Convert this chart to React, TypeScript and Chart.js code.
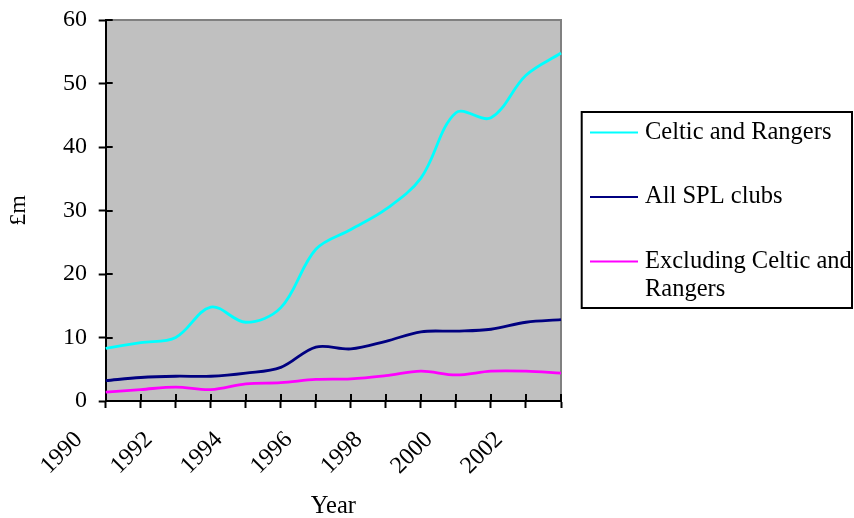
import React, { useEffect, useRef } from 'react';
import { Chart, registerables } from 'chart.js';

Chart.register(...registerables);

const years = ['1990', '1991', '1992', '1993', '1994', '1995', '1996', '1997', '1998', '1999', '2000', '2001', '2002', '2003'];
const xTickLabels = ['1990', '1992', '1994', '1996', '1998', '2000', '2002'];
const celticRangers = [8.3, 9.2, 10.0, 14.8, 12.4, 14.7, 23.9, 27.0, 30.2, 35.1, 45.4, 44.6, 51.3, 54.8];
const allSplClubs = [3.2, 3.7, 3.9, 3.9, 4.4, 5.3, 8.5, 8.2, 9.4, 10.9, 11.0, 11.3, 12.4, 12.8];
const excludingCR = [1.4, 1.8, 2.2, 1.8, 2.7, 2.9, 3.4, 3.5, 4.0, 4.7, 4.1, 4.7, 4.7, 4.4];
const seriesNames = ['Celtic and Rangers', 'All SPL clubs', 'Excluding Celtic and Rangers'];
const seriesColors = ['#00FFFF', '#000080', '#FF00FF'];
const yMin = 0;
const yMax = 60;
const yStep = 10;

const FAMILY = "'Liberation Serif', 'Times New Roman', serif";

const plotBgPlugin = {
  id: 'plotBg',
  beforeDraw(chart: any) {
    const { ctx, chartArea: a } = chart;
    ctx.save();
    ctx.fillStyle = '#C0C0C0';
    ctx.fillRect(a.left, a.top, a.right - a.left, a.bottom - a.top);
    ctx.strokeStyle = '#808080';
    ctx.lineWidth = 2;
    ctx.beginPath();
    ctx.moveTo(a.left, a.top);
    ctx.lineTo(a.right, a.top);
    ctx.lineTo(a.right, a.bottom);
    ctx.stroke();
    ctx.restore();
  },
};

const innerTicksPlugin = {
  id: 'innerTicks',
  beforeDatasetsDraw(chart: any) {
    const { ctx, chartArea: a, scales } = chart;
    const len = 7;
    ctx.save();
    ctx.strokeStyle = '#000';
    ctx.lineWidth = 2;
    ctx.beginPath();
    scales.x.ticks.forEach((_t: any, i: number) => {
      const px = Math.round(scales.x.getPixelForTick(i));
      ctx.moveTo(px, a.bottom);
      ctx.lineTo(px, a.bottom - len);
    });
    scales.y.ticks.forEach((_t: any, i: number) => {
      const py = Math.round(scales.y.getPixelForTick(i));
      ctx.moveTo(a.left, py);
      ctx.lineTo(a.left + len, py);
    });
    ctx.stroke();
    ctx.restore();
  },
};

function wrapText(ctx: CanvasRenderingContext2D, text: string, maxW: number): string[] {
  const words = text.split(' ');
  const lines: string[] = [];
  let cur = '';
  words.forEach((w) => {
    const test = cur ? cur + ' ' + w : w;
    if (ctx.measureText(test).width > maxW && cur) {
      lines.push(cur);
      cur = w;
    } else {
      cur = test;
    }
  });
  if (cur) lines.push(cur);
  return lines;
}

const boxLegendPlugin = {
  id: 'boxLegend',
  afterDraw(chart: any) {
    const { ctx } = chart;
    const bx = 581.7, by = 112, bw = 270.3, bh = 196;
    ctx.save();
    ctx.fillStyle = '#FFFFFF';
    ctx.fillRect(bx, by, bw, bh);
    ctx.strokeStyle = '#000';
    ctx.lineWidth = 2;
    ctx.strokeRect(bx, by, bw, bh);
    ctx.font = `24.5px ${FAMILY}`;
    ctx.textBaseline = 'middle';
    ctx.textAlign = 'left';
    let y = 132.5;
    chart.data.datasets.forEach((ds: any) => {
      ctx.strokeStyle = ds.borderColor;
      ctx.lineWidth = 2;
      ctx.beginPath();
      ctx.moveTo(590, y);
      ctx.lineTo(638, y);
      ctx.stroke();
      ctx.fillStyle = '#000';
      const lines = wrapText(ctx, ds.label, 212);
      lines.forEach((l, i) => ctx.fillText(l, 645, y + i * 28));
      y += 64.5;
    });
    ctx.restore();
  },
};

export default function App() {
  const ref = useRef<HTMLCanvasElement | null>(null);

  useEffect(() => {
    if (!ref.current) return;
    const seriesData = [celticRangers, allSplClubs, excludingCR];
    const chart = new Chart(ref.current, {
      type: 'line',
      data: {
        labels: years,
        datasets: seriesData.map((d, i) => ({
          label: seriesNames[i],
          data: d,
          borderColor: seriesColors[i],
          backgroundColor: seriesColors[i],
          borderWidth: 2.8,
          pointRadius: 0,
          tension: 0.35,
          fill: false,
        })),
      },
      options: {
        animation: false,
        responsive: false,
        devicePixelRatio: 1,
        layout: { padding: { top: 20, right: 293, left: 0, bottom: 0 } },
        plugins: {
          legend: { display: false },
          tooltip: { enabled: false },
        },
        scales: {
          x: {
            type: 'category',
            offset: false,
            grid: {
              display: true,
              drawOnChartArea: false,
              drawTicks: true,
              tickLength: 7,
              tickWidth: 2,
              tickColor: '#000',
            },
            border: { display: true, color: '#000', width: 2 },
            ticks: {
              autoSkip: false,
              maxRotation: 45,
              minRotation: 45,
              padding: 18,
              labelOffset: -27,
              color: '#000',
              font: { size: 24, family: FAMILY },
              callback: (_v: any, i: number) => (xTickLabels.includes(years[i]) ? years[i] : ''),
            },
            title: {
              display: true,
              text: 'Year',
              color: '#000',
              font: { size: 24.5, family: FAMILY, lineHeight: '22px' },
              padding: { top: 0, bottom: 0 },
            },
            afterFit: (s: any) => {
              s.height = 117;
            },
          },
          y: {
            min: yMin,
            max: yMax,
            grid: {
              display: true,
              drawOnChartArea: false,
              drawTicks: true,
              tickLength: 7,
              tickWidth: 2,
              tickColor: '#000',
            },
            border: { display: true, color: '#000', width: 2 },
            ticks: {
              stepSize: yStep,
              padding: 11.7,
              color: '#000',
              font: { size: 24, family: FAMILY },
            },
            title: {
              display: true,
              text: '£m',
              color: '#000',
              font: { size: 24, family: FAMILY, lineHeight: '22px' },
              padding: { top: 7.6, bottom: 0 },
            },
            afterFit: (s: any) => {
              s.width = 105.7;
              s.paddingTop = 0;
              s.paddingBottom = 0;
            },
          },
        },
      } as any,
      plugins: [plotBgPlugin, innerTicksPlugin, boxLegendPlugin],
    });
    return () => chart.destroy();
  }, []);

  return (
    <div style={{ position: 'absolute', left: 0, top: 0, width: 854, height: 518 }}>
      <canvas ref={ref} width={854} height={518} style={{ display: 'block', width: 854, height: 518 }} />
    </div>
  );
}
